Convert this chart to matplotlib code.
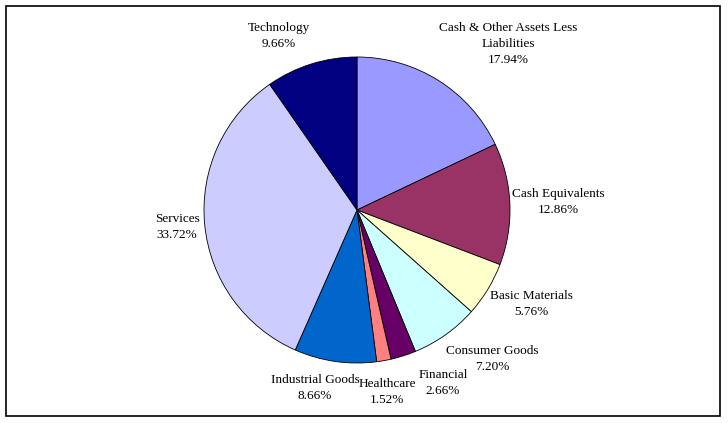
import matplotlib.pyplot as plt
from matplotlib.patches import Rectangle

labels = ['Cash & Other Assets Less\nLiabilities', 'Cash Equivalents', 'Basic Materials',
          'Consumer Goods', 'Financial', 'Healthcare', 'Industrial Goods', 'Services', 'Technology']
values = [17.94, 12.86, 5.76, 7.20, 2.66, 1.52, 8.66, 33.72, 9.66]
colors = ['#9999FF', '#993366', '#FFFFCC', '#CCFFFF', '#660066', '#FF8080', '#0066CC', '#CCCCFF', '#000080']

# label centres in pixel coords (x, y from top), as Excel placed them
label_px = [(508, 44), (558, 202), (531, 304), (492, 359), (443, 383),
            (387, 392), (315, 388), (177, 227), (279, 36)]

W, H = 728, 423
plt.rcParams['font.family'] = ['Liberation Serif', 'DejaVu Serif']

fig = plt.figure(figsize=(W / 100, H / 100), dpi=100)
ax = fig.add_axes([0, 0, 1, 1])

wedges, texts = ax.pie(values, labels=[f'{l}\n{v:.2f}%' for l, v in zip(labels, values)],
                       colors=colors, startangle=90, counterclock=False,
                       center=(357, H - 210), radius=153, frame=True,
                       wedgeprops=dict(edgecolor='black', linewidth=0.6),
                       textprops=dict(fontsize=9.5, ha='center', va='center'))
ax.set_xlim(0, W)
ax.set_ylim(0, H)
ax.set_aspect('equal')
ax.axis('off')

for t, (px, py) in zip(texts, label_px):
    t.set_position((px, H - py))
    t.set_ha('center')
    t.set_va('center')
    t.set_multialignment('center')
    t.set_linespacing(1.45)

ax.add_patch(Rectangle((6, H - 416), 714, 410, fill=False, edgecolor='black', linewidth=1.2))

fig.savefig('out.png', dpi=100)
